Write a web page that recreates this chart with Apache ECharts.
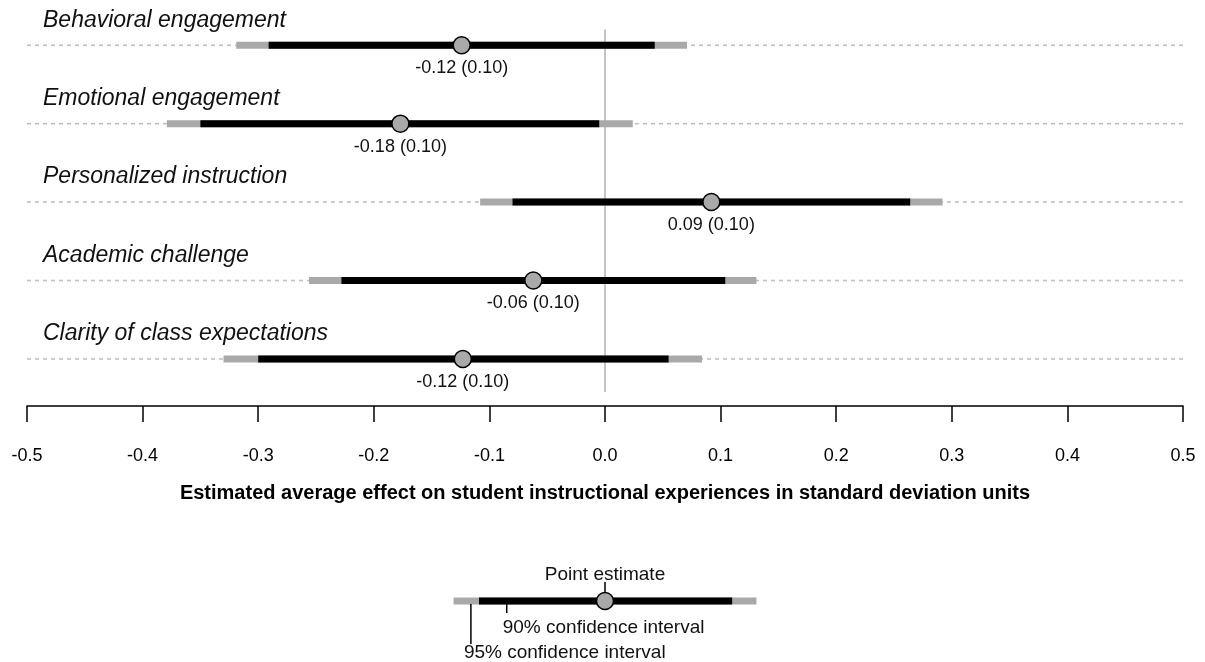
<!DOCTYPE html>
<html>
<head>
<meta charset="utf-8">
<script src="https://cdn.jsdelivr.net/npm/echarts@6/dist/echarts.min.js"></script>
<style>
  html, body { margin: 0; padding: 0; background: #fff; }
  #chart { width: 1205px; height: 662px; }
</style>
</head>
<body>
<div id="chart"></div>
<script>
// outcomes, top to bottom
const outcomes = [
  'Behavioral engagement',
  'Emotional engagement',
  'Personalized instruction',
  'Academic challenge',
  'Clarity of class expectations'
];
const estimates = [-0.124, -0.177, 0.092, -0.062, -0.123];
const ci90Low = [-0.291, -0.350, -0.080, -0.228, -0.300];
const ci90High = [0.043, -0.005, 0.264, 0.104, 0.055];
const ci95Low = [-0.319, -0.379, -0.108, -0.256, -0.330];
const ci95High = [0.071, 0.024, 0.292, 0.131, 0.084];
const estLabels = ['-0.12 (0.10)', '-0.18 (0.10)', '0.09 (0.10)', '-0.06 (0.10)', '-0.12 (0.10)'];

// key at the bottom: [lo95, lo90, estimate, hi90, hi95]
const keyInterval = [-0.131, -0.109, 0, 0.110, 0.131];
const keyLabels = ['Point estimate', '90% confidence interval', '95% confidence interval'];

const FONT = '"Liberation Sans", Arial, sans-serif';
const GRAY = '#a9a9a9';

const chart = echarts.init(document.getElementById('chart'));

const rowData = outcomes.map((name, i) => [i + 1, ci95Low[i], ci95High[i], ci90Low[i], ci90High[i], estimates[i]]);

const option = {
  animation: false,
  grid: [
    { left: 27, right: 22, top: 6, height: 400 },
    { left: 27, right: 22, top: 551, height: 100 }
  ],
  xAxis: [
    {
      gridIndex: 0,
      type: 'value',
      min: -0.5,
      max: 0.5,
      interval: 0.1,
      splitLine: { show: false },
      axisLine: { lineStyle: { color: '#000', width: 1.5 } },
      axisTick: { length: 16, lineStyle: { color: '#000', width: 1.5 } },
      axisLabel: {
        margin: 41,
        color: '#000',
        fontFamily: FONT,
        fontSize: 18,
        formatter: v => (Math.abs(v) < 1e-9 ? '0.0' : v.toFixed(1))
      },
      name: 'Estimated average effect on student instructional experiences in standard deviation units',
      nameLocation: 'middle',
      nameGap: 77,
      nameTextStyle: { color: '#000', fontFamily: FONT, fontSize: 20, fontWeight: 'bold' }
    },
    { gridIndex: 1, type: 'value', min: -0.5, max: 0.5, show: false }
  ],
  yAxis: [
    { gridIndex: 0, type: 'value', min: 0.5, max: 5.6, inverse: true, show: false },
    { gridIndex: 1, type: 'value', min: 0, max: 1, inverse: true, show: false }
  ],
  series: [
    // vertical reference line at zero
    {
      type: 'custom',
      xAxisIndex: 0,
      yAxisIndex: 0,
      z: 1,
      data: [[0]],
      renderItem(params, api) {
        const a = api.coord([api.value(0), 0.8]);
        const b = api.coord([api.value(0), 5.42]);
        return {
          type: 'line',
          shape: { x1: a[0], y1: a[1], x2: b[0], y2: b[1] },
          style: { stroke: '#c4c4c4', lineWidth: 2 }
        };
      }
    },
    // one row per outcome
    {
      type: 'custom',
      xAxisIndex: 0,
      yAxisIndex: 0,
      z: 2,
      data: rowData,
      renderItem(params, api) {
        const r = api.value(0);
        const left = api.coord([-0.5, r]);
        const right = api.coord([0.5, r]);
        const a95 = api.coord([api.value(1), r]);
        const b95 = api.coord([api.value(2), r]);
        const a90 = api.coord([api.value(3), r]);
        const b90 = api.coord([api.value(4), r]);
        const pe = api.coord([api.value(5), r]);
        const y = left[1];
        return {
          type: 'group',
          children: [
            {
              type: 'line',
              shape: { x1: left[0], y1: y, x2: right[0], y2: y },
              style: { stroke: '#bdbdbd', lineWidth: 1.5, lineDash: [4, 4] }
            },
            {
              type: 'line',
              shape: { x1: a95[0], y1: y, x2: b95[0], y2: y },
              style: { stroke: GRAY, lineWidth: 7 }
            },
            {
              type: 'line',
              shape: { x1: a90[0], y1: y, x2: b90[0], y2: y },
              style: { stroke: '#000', lineWidth: 7 }
            },
            {
              type: 'circle',
              shape: { cx: pe[0], cy: y, r: 8.5 },
              style: { fill: GRAY, stroke: '#000', lineWidth: 1.5 }
            },
            {
              type: 'text',
              x: pe[0],
              y: y + 23,
              style: {
                text: estLabels[params.dataIndex],
                fill: '#111',
                font: '18px ' + FONT,
                align: 'center',
                verticalAlign: 'middle'
              }
            },
            {
              type: 'text',
              x: left[0] + 16,
              y: y - 25,
              style: {
                text: outcomes[params.dataIndex],
                fill: '#111',
                font: 'italic 23px ' + FONT,
                align: 'left',
                verticalAlign: 'middle'
              }
            }
          ]
        };
      }
    },
    // key
    {
      type: 'custom',
      xAxisIndex: 1,
      yAxisIndex: 1,
      data: [[0.5].concat(keyInterval)],
      renderItem(params, api) {
        const r = api.value(0);
        const a95 = api.coord([api.value(1), r]);
        const a90 = api.coord([api.value(2), r]);
        const pe = api.coord([api.value(3), r]);
        const b90 = api.coord([api.value(4), r]);
        const b95 = api.coord([api.value(5), r]);
        const y = pe[1];
        const t90 = api.coord([-0.085, r])[0];
        const t95 = api.coord([-0.116, r])[0];
        const txt = (s, x, yy, align) => ({
          type: 'text', x: x, y: yy,
          style: { text: s, fill: '#111', font: '19px ' + FONT, align: align, verticalAlign: 'middle' }
        });
        const tick = (x, y1, y2) => ({
          type: 'line', shape: { x1: x, y1: y1, x2: x, y2: y2 },
          style: { stroke: '#000', lineWidth: 1.5 }
        });
        return {
          type: 'group',
          children: [
            { type: 'line', shape: { x1: a95[0], y1: y, x2: b95[0], y2: y }, style: { stroke: GRAY, lineWidth: 7 } },
            { type: 'line', shape: { x1: a90[0], y1: y, x2: b90[0], y2: y }, style: { stroke: '#000', lineWidth: 7 } },
            tick(pe[0], y - 19, y - 8),
            tick(t90, y + 3, y + 12),
            tick(t95, y + 3, y + 43),
            { type: 'circle', shape: { cx: pe[0], cy: y, r: 8.5 }, style: { fill: GRAY, stroke: '#000', lineWidth: 1.5 } },
            txt(keyLabels[0], pe[0], y - 26, 'center'),
            txt(keyLabels[1], t90 - 4, y + 27, 'left'),
            txt(keyLabels[2], t95 - 7, y + 52, 'left')
          ]
        };
      }
    }
  ]
};

chart.setOption(option);
</script>
</body>
</html>
